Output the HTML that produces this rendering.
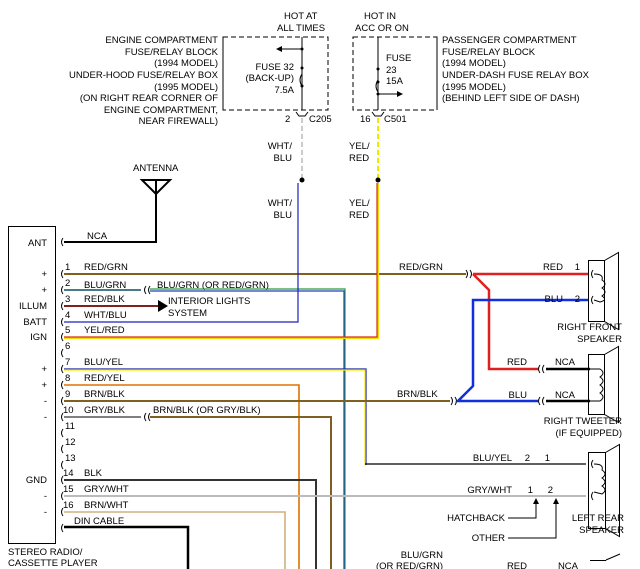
<!DOCTYPE html>
<html><head><meta charset="utf-8"><style>
html,body{margin:0;padding:0;background:#fff}
svg{display:block}
text{font-family:"Liberation Sans",sans-serif;font-size:9.5px;fill:#000}
</style></head><body>
<svg width="640" height="569" viewBox="0 0 640 569" xmlns="http://www.w3.org/2000/svg">
<g fill="none" stroke="#000" stroke-dasharray="5,3" stroke-width="1">
<rect x="223" y="37" width="105" height="73"/>
<rect x="353" y="37" width="84" height="73"/>
</g>
<g stroke="#000" fill="none">
<line x1="302" y1="37" x2="302" y2="110"/>
<line x1="302" y1="49" x2="280" y2="49"/>
<path d="M302 86 q-4 -6 0 -12" />
<line x1="378" y1="37" x2="378" y2="110"/>
<line x1="378" y1="94" x2="398" y2="94"/>
<path d="M378 92 q-4 -6 0 -12" />
<path d="M296 112 l3 4 h6 l3 -4 M372 112 l3 4 h6 l3 -4"/>
</g>
<polygon points="276,49 282,46 282,52" fill="#000"/>
<polygon points="403,94 397,91 397,97" fill="#000"/>
<circle cx="302" cy="49" r="1.5"/><circle cx="302" cy="68" r="1.5"/><circle cx="302" cy="86" r="1.5"/>
<circle cx="378" cy="69" r="1.5"/><circle cx="378" cy="82" r="1.5"/><circle cx="378" cy="94" r="1.5"/>
<text x="284" y="19">HOT AT</text><text x="277" y="31">ALL TIMES</text>
<text x="364" y="19">HOT IN</text><text x="355" y="31">ACC OR ON</text>
<g text-anchor="end">
<text x="218" y="43">ENGINE COMPARTMENT</text>
<text x="218" y="55">FUSE/RELAY BLOCK</text>
<text x="218" y="66">(1994 MODEL)</text>
<text x="218" y="78">UNDER-HOOD FUSE/RELAY BOX</text>
<text x="218" y="90">(1995 MODEL)</text>
<text x="218" y="101">(ON RIGHT REAR CORNER OF</text>
<text x="218" y="113">ENGINE COMPARTMENT,</text>
<text x="218" y="124">NEAR FIREWALL)</text>
<text x="294" y="70">FUSE 32</text><text x="294" y="81">(BACK-UP)</text><text x="294" y="93">7.5A</text>
</g>
<g stroke="#000"><line x1="223" y1="37" x2="223" y2="110"/><line x1="437" y1="37" x2="437" y2="110"/></g>
<text x="386" y="61">FUSE</text><text x="386" y="73">23</text><text x="386" y="84">15A</text>
<text x="442" y="43">PASSENGER COMPARTMENT</text>
<text x="442" y="55">FUSE/RELAY BLOCK</text>
<text x="442" y="66">(1994 MODEL)</text>
<text x="442" y="78">UNDER-DASH FUSE RELAY BOX</text>
<text x="442" y="90">(1995 MODEL)</text>
<text x="442" y="101">(BEHIND LEFT SIDE OF DASH)</text>
<text x="285" y="122">2</text><text x="309" y="122">C205</text>
<text x="360" y="122">16</text><text x="384" y="122">C501</text>
<line x1="302" y1="118" x2="302" y2="178" stroke="#ccc" stroke-width="2" stroke-dasharray="5,3"/>
<line x1="378" y1="118" x2="378" y2="178" stroke="#f0e800" stroke-width="2" stroke-dasharray="5,3"/>
<circle cx="302" cy="180" r="2.5"/><circle cx="378" cy="180" r="2.5"/>
<g text-anchor="end"><text x="292" y="149">WHT/</text><text x="292" y="161">BLU</text>
<text x="292" y="206">WHT/</text><text x="292" y="218">BLU</text></g>
<text x="349" y="149">YEL/</text><text x="349" y="161">RED</text>
<text x="349" y="206">YEL/</text><text x="349" y="218">RED</text>
<text x="133" y="171">ANTENNA</text>
<path d="M142 180 h28 l-14 14 z M156 180 v62 H64" stroke="#000" stroke-width="2" fill="none"/>
<text x="87" y="239">NCA</text>
<rect x="8.5" y="226.5" width="47" height="317" fill="none" stroke="#000"/>
<g text-anchor="end">
<text x="47" y="246">ANT</text><text x="47" y="277">+</text><text x="47" y="293">+</text>
<text x="47" y="309">ILLUM</text><text x="47" y="325">BATT</text><text x="47" y="340">IGN</text>
<text x="47" y="372">+</text><text x="47" y="388">+</text><text x="47" y="404">-</text><text x="47" y="420">-</text>
<text x="47" y="483">GND</text><text x="47" y="499">-</text><text x="47" y="515">-</text>
</g>
<text x="8" y="555">STEREO RADIO/</text><text x="8" y="566">CASSETTE PLAYER</text>
<g fill="none" stroke="#000">
<path d="M63 238 q-3 4 0 8 M63 270 q-3 4 0 8 M63 286 q-3 4 0 8 M63 302 q-3 4 0 8 M63 318 q-3 4 0 8 M63 333 q-3 4 0 8 M63 349 q-3 4 0 8 M63 365 q-3 4 0 8 M63 381 q-3 4 0 8 M63 397 q-3 4 0 8 M63 413 q-3 4 0 8 M63 429 q-3 4 0 8 M63 445 q-3 4 0 8 M63 461 q-3 4 0 8 M63 476 q-3 4 0 8 M63 492 q-3 4 0 8 M63 508 q-3 4 0 8 M63 524 q-3 4 0 8"/>
</g>
<g>
<text x="65" y="270">1</text><text x="65" y="286">2</text><text x="65" y="302">3</text><text x="65" y="318">4</text>
<text x="65" y="333">5</text><text x="65" y="349">6</text><text x="65" y="365">7</text><text x="65" y="381">8</text>
<text x="65" y="397">9</text><text x="63" y="413">10</text><text x="65" y="429">11</text><text x="65" y="445">12</text>
<text x="65" y="461">13</text><text x="63" y="476">14</text><text x="63" y="492">15</text><text x="63" y="508">16</text>
<text x="84" y="270">RED/GRN</text><text x="84" y="288">BLU/GRN</text><text x="84" y="302">RED/BLK</text>
<text x="84" y="318">WHT/BLU</text><text x="84" y="333">YEL/RED</text><text x="84" y="365">BLU/YEL</text>
<text x="84" y="381">RED/YEL</text><text x="84" y="397">BRN/BLK</text><text x="84" y="413">GRY/BLK</text>
<text x="84" y="476">BLK</text><text x="84" y="492">GRY/WHT</text><text x="84" y="508">BRN/WHT</text>
<text x="74" y="524">DIN CABLE</text>
<text x="157" y="288">BLU/GRN (OR RED/GRN)</text>
<text x="168" y="304">INTERIOR LIGHTS</text><text x="168" y="316">SYSTEM</text>
<text x="153" y="413">BRN/BLK (OR GRY/BLK)</text>
<text x="399" y="270">RED/GRN</text><text x="397" y="397">BRN/BLK</text>
</g>
<g fill="none" stroke-width="1.2">
<line x1="64" y1="274" x2="466" y2="274" stroke="#806020" stroke-width="2"/>
<path d="M64 290 H141" stroke="#4a7a8a" stroke-width="2"/>
<path d="M150 289 H345 V569" stroke="#2a9a30"/><path d="M150 291 H344 V569" stroke="#2040c0"/>
<line x1="64" y1="306" x2="158" y2="306" stroke="#802020" stroke-width="2"/>
<path d="M64 322 H298 V183" stroke="#2020c0"/>
<path d="M64 338 H378 V183" stroke="#f0e000" stroke-width="2"/>
<path d="M64 337 H377 V183" stroke="#d03010"/>
<path d="M64 369 H366 V465" stroke="#2020a0"/><path d="M64 370 H365 V465" stroke="#f0f000"/>
<path d="M365 464 H586" stroke="#000"/>
<path d="M64 385 H299 V569" stroke="#e07000" stroke-width="1.6"/>
<path d="M64 401 H450" stroke="#806020" stroke-width="2"/>
<path d="M64 417 H141" stroke="#808080" stroke-width="2"/>
<path d="M150 417 H331 V569" stroke="#806020" stroke-width="2"/>
<path d="M64 480 H316 V569" stroke="#333" stroke-width="2"/>
<path d="M64 496 H586" stroke="#bbb" stroke-width="2"/>
<path d="M64 512 H285 V569" stroke="#d0b080" stroke-width="1.6"/>
<path d="M64 527 H188 V569" stroke="#000" stroke-width="2.5"/>
</g>
<polygon points="158,300 168,306 158,312" fill="#000"/>
<g fill="none" stroke="#000">
<path d="M146 286 q-3 4 0 8 M150 286 q-3 4 0 8 M146 413 q-3 4 0 8 M150 413 q-3 4 0 8"/>
<path d="M466 270 q3 4 0 8 M470 270 q3 4 0 8 M451 397 q3 4 0 8 M455 397 q3 4 0 8"/>
<path d="M540 365 q-3 4 0 8 M544 365 q-3 4 0 8 M540 397 q-3 4 0 8 M544 397 q-3 4 0 8"/>
<path d="M593 270 q-3 4 0 8 M593 296 q-3 4 0 8 M593 460 q-3 4 0 8 M593 492 q-3 4 0 8"/>
</g>
<g fill="none" stroke-width="2.5">
<path d="M473 274 H588 M473 274 L489 290 V369 H538" stroke="#e02020"/>
<path d="M588 300 H473 V386 L458 401 H538" stroke="#1030e0"/>
<path d="M546 369 H590 M546 401 H590" stroke="#000"/>
</g>
<g text-anchor="end">
<text x="563" y="270">RED</text><text x="580" y="270">1</text>
<text x="563" y="302">BLU</text><text x="580" y="302">2</text>
<text x="527" y="365">RED</text><text x="575" y="365">NCA</text>
<text x="527" y="398">BLU</text><text x="575" y="398">NCA</text>
<text x="622" y="330">RIGHT FRONT</text><text x="622" y="342">SPEAKER</text>
<text x="622" y="424">RIGHT TWEETER</text><text x="622" y="436">(IF EQUIPPED)</text>
<text x="512" y="461">BLU/YEL</text><text x="530" y="461">2</text><text x="550" y="461">1</text>
<text x="512" y="493">GRY/WHT</text><text x="533" y="493">1</text><text x="553" y="493">2</text>
<text x="505" y="521">HATCHBACK</text><text x="505" y="541">OTHER</text>
<text x="624" y="521">LEFT REAR</text><text x="624" y="533">SPEAKER</text>
<text x="443" y="558">BLU/GRN</text><text x="443" y="569">(OR RED/GRN)</text>
<text x="527" y="569">RED</text><text x="578" y="569">NCA</text>
</g>
<g fill="none" stroke="#000">
<path d="M508 518 H536 V502 M508 538 H556 V502"/>
<path d="M588.5 260.5 h16 v61 h-16 z M604.5 260.5 l14 -8 v77 l-14 -8"/>
<path d="M588.5 354.5 h16 v60 h-16 z M604.5 354.5 l14 -8 v76 l-14 -8"/>
<path d="M588.5 452.5 h17 v76 h-17 z M605.5 452.5 l14 -8 v92 l-14 -8"/>
<path d="M590 560.5 h16 M606 560 l14 -6"/>
<path d="M594 274 q10 0 8 6 q6 4 0 8 q6 4 0 8 q6 4 -2 6 l-6 -2"/>
<path d="M590 369 h10 q6 4 0 8 q6 4 0 8 q6 4 0 8 q6 4 0 8 h-10"/>
<path d="M594 464 q10 0 8 6 q6 4 0 8 q6 4 0 8 q6 4 0 8 l-8 -2"/>
</g>
<polygon points="536,498 533,504 539,504" fill="#000"/>
<polygon points="556,498 553,504 559,504" fill="#000"/>
</svg>
</body></html>
